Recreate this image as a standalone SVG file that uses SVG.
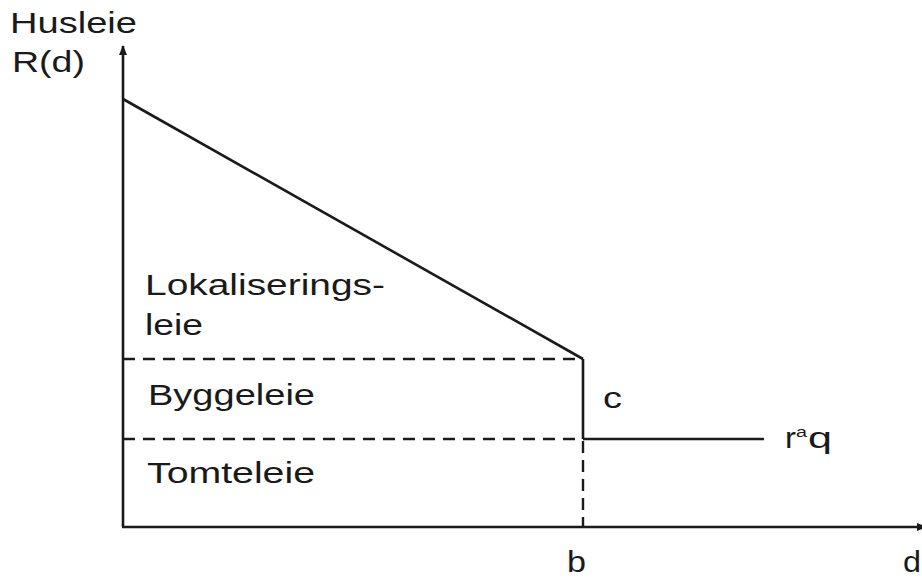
<svg xmlns="http://www.w3.org/2000/svg" width="922" height="578" viewBox="0 0 922 578">
<defs>
<style>
.t{font-family:"Liberation Sans",Arial,sans-serif;fill:#1a1a1a;font-size:30px}
.s{stroke:#1a1a1a;stroke-width:2.6;fill:none}
.dh{stroke:#1a1a1a;stroke-width:2.4;fill:none;stroke-dasharray:12 8}
.dv{stroke:#1a1a1a;stroke-width:2.4;fill:none;stroke-dasharray:12 7}
</style>
<marker id="ah" markerWidth="10" markerHeight="10" refX="9" refY="5" orient="auto" markerUnits="userSpaceOnUse">
<path d="M0,1 L10,5 L0,9 Z" fill="#1a1a1a"/>
</marker>
</defs>
<rect width="922" height="578" fill="#ffffff"/>
<g id="axes">
<line class="s" x1="123" y1="527" x2="123" y2="46" marker-end="url(#ah)"/>
<line class="s" x1="122" y1="527" x2="926" y2="527" marker-end="url(#ah)"/>
</g>
<g id="connectors">
<line class="s" x1="123" y1="99" x2="583" y2="359"/>
<line class="s" x1="583" y1="359" x2="583" y2="439"/>
<line class="s" x1="583" y1="439" x2="764" y2="439"/>
<line class="dh" x1="123" y1="359" x2="583" y2="359"/>
<line class="dh" x1="123" y1="439" x2="583" y2="439"/>
<line class="dv" x1="583" y1="441" x2="583" y2="527"/>
</g>
<g id="labels">
<text class="t" x="10" y="33" font-size="27" textLength="127" lengthAdjust="spacingAndGlyphs">Husleie</text>
<text class="t" x="12" y="72" font-size="29" textLength="73" lengthAdjust="spacingAndGlyphs">R(d)</text>
<text class="t" x="145" y="295" textLength="240" lengthAdjust="spacingAndGlyphs">Lokaliserings-</text>
<text class="t" x="145" y="335" textLength="58" lengthAdjust="spacingAndGlyphs">leie</text>
<text class="t" x="148" y="405" textLength="167" lengthAdjust="spacingAndGlyphs">Byggeleie</text>
<text class="t" x="147" y="483" textLength="168" lengthAdjust="spacingAndGlyphs">Tomteleie</text>
<text class="t" x="603" y="408" textLength="19" lengthAdjust="spacingAndGlyphs">c</text>
<text class="t" y="448"><tspan x="785" textLength="11" lengthAdjust="spacingAndGlyphs">r</tspan><tspan x="796" y="437" font-size="14" textLength="11" lengthAdjust="spacingAndGlyphs">a</tspan><tspan x="808" y="448" textLength="24" lengthAdjust="spacingAndGlyphs">q</tspan></text>
<text class="t" x="567" y="572" textLength="19" lengthAdjust="spacingAndGlyphs">b</text>
<text class="t" x="903" y="572" textLength="18" lengthAdjust="spacingAndGlyphs">d</text>
</g>
</svg>
